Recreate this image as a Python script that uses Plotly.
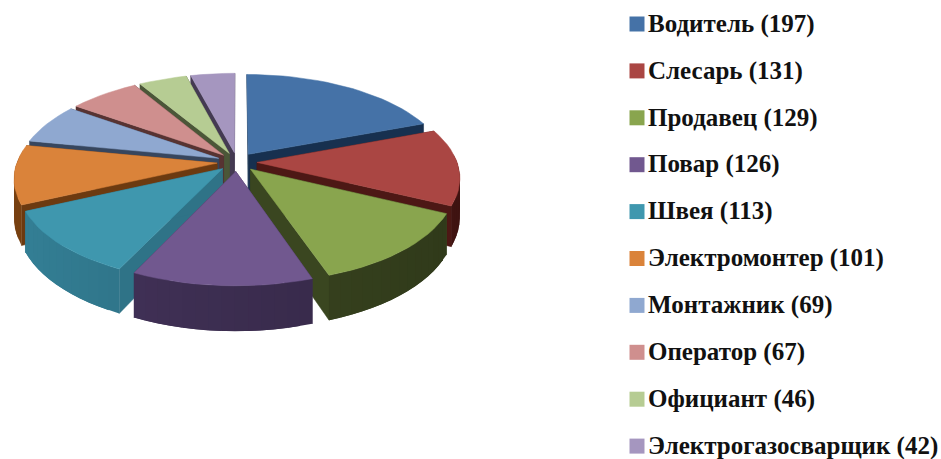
import math
import plotly.graph_objects as go

categories = ["Водитель", "Слесарь", "Продавец", "Повар", "Швея", "Электромонтер",
              "Монтажник", "Оператор", "Официант", "Электрогазосварщик"]
values = [197, 131, 129, 126, 113, 101, 69, 67, 46, 42]
top_colors = ["#4572a7", "#aa4643", "#89a54e", "#71588f", "#3f97ae", "#da833a",
              "#8fa8d0", "#cf8f8e", "#b6cc93", "#a596bf"]
wall_colors = ["#17304f", "#4d1815", "#3a4620", "#3e2f53", "#2f7387", "#6c3a10",
               "#37465e", "#573332", "#4b5638", "#443a52"]

# Projection settings, screen pixels
CX, CY = 237, 162
RX, RY = 200, 94
PERSP = 0.15
EXPLODE = 0.1
DEPTH = 38
STEP_DEG = 3.0


def project(u, v, drop=0.0):
    w = 1 + PERSP * v
    return CX + RX * u / w, CY - RY * v / w + drop / w


def shade(hex_color, factor):
    r, g, b = (int(hex_color[i:i + 2], 16) for i in (1, 3, 5))
    f = lambda c: min(255, int(c * factor))
    return f"rgb({f(r)},{f(g)},{f(b)})"


def poly(xs, ys, color, name=None, outline=0.5):
    return go.Scatter(x=xs + xs[:1], y=ys + ys[:1], mode="lines", fill="toself",
                      fillcolor=color, line=dict(color=color, width=outline),
                      hoverinfo="skip" if name is None else "text",
                      text=name, showlegend=False)


total = sum(values)
slices = []
start = 0.0
for i, val in enumerate(values):
    a0 = start / total * 2 * math.pi
    a1 = (start + val) / total * 2 * math.pi
    start += val
    slices.append((i, a0, a1, (a0 + a1) / 2))

fig = go.Figure()
for i, a0, a1, mid in sorted(slices, key=lambda s: -math.cos(s[3])):
    ou, ov = EXPLODE * math.sin(mid), EXPLODE * math.cos(mid)
    n = max(2, int(math.degrees(a1 - a0) / STEP_DEG))
    angles = [a0 + (a1 - a0) * k / n for k in range(n + 1)]
    rim = [(ou + math.sin(t), ov + math.cos(t)) for t in angles]
    wall = wall_colors[i]

    # cut faces
    for (u, v) in (rim[0], rim[-1]):
        p = [project(ou, ov), project(u, v), project(u, v, DEPTH), project(ou, ov, DEPTH)]
        fig.add_trace(poly([q[0] for q in p], [q[1] for q in p], wall))
    # outer wall, shaded along the rim; each strip runs under the next one
    for k in range(n):
        if math.cos(angles[k]) > 0.05 and math.cos(angles[k + 1]) > 0.05:
            continue
        j = min(k + 2, n)
        (u0, v0), (u1, v1) = rim[k], rim[k + 1]
        (u2, v2) = rim[j]
        p = [project(u0, v0), project(u1, v1), project(u2, v2),
             project(u2, v2, DEPTH), project(u1, v1, DEPTH), project(u0, v0, DEPTH)]
        factor = 1.12 - 0.3 * (math.sin(angles[k]) + 1) / 2
        fig.add_trace(poly([q[0] for q in p], [q[1] for q in p], shade(wall, factor), outline=0))
    # top face
    pts = [project(ou, ov)] + [project(u, v) for u, v in rim]
    fig.add_trace(poly([q[0] for q in pts], [q[1] for q in pts], top_colors[i],
                       f"{categories[i]}: {values[i]}"))

# Legend column
legend_labels = [f"{c} ({v})" for c, v in zip(categories, values)]
legend_rows = [24 + 46.9 * k for k in range(len(values))]
fig.add_trace(go.Scatter(
    x=[637] * len(values), y=legend_rows, mode="markers", showlegend=False, hoverinfo="skip",
    marker=dict(symbol="square", size=15, color=top_colors, line=dict(width=0))))
fig.add_trace(go.Scatter(
    x=[648] * len(values), y=[r + 1.5 for r in legend_rows], mode="text", text=legend_labels,
    textposition="middle right", showlegend=False, hoverinfo="skip",
    textfont=dict(family="Liberation Serif", size=25, color="#111111", weight="bold")))

fig.update_layout(
    width=941, height=459, margin=dict(l=0, r=0, t=0, b=0),
    paper_bgcolor="white", plot_bgcolor="white", showlegend=False,
    xaxis=dict(range=[0, 941], visible=False, fixedrange=True),
    yaxis=dict(range=[459, 0], visible=False, fixedrange=True),
)
fig.write_html("out.html", config={"displayModeBar": False},
               post_script="document.body.style.margin='0';")
